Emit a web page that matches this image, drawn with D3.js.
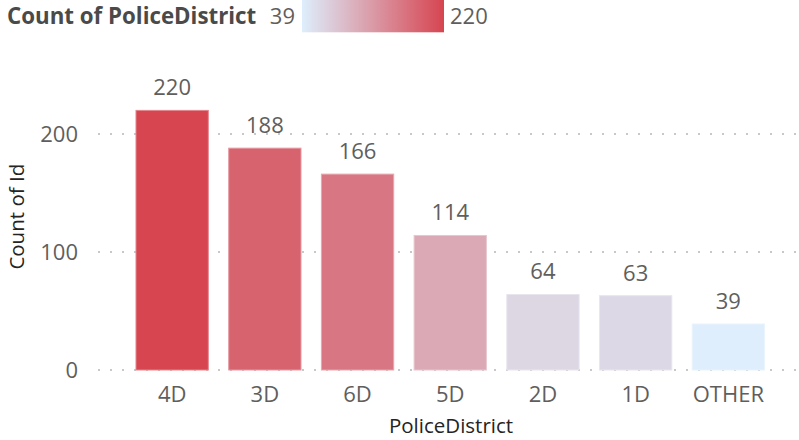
<!DOCTYPE html>
<html><head><meta charset="utf-8">
<script src="https://cdn.jsdelivr.net/npm/d3@7"></script>
<style>
html,body{margin:0;padding:0;background:#fff;}
svg{display:block;font-family:"Open Sans","Noto Sans",sans-serif;}
</style></head>
<body>
<svg id="chart" width="799" height="440"></svg>
<script>
const categories = ["4D","3D","6D","5D","2D","1D","OTHER"];
const counts = [220,188,166,114,64,63,39];
const yTicks = [0,100,200];
const legendTitle = "Count of PoliceDistrict";
const xTitle = "PoliceDistrict";
const yTitle = "Count of Id";
const minColor = "#DEEEFC", maxColor = "#D64550";

const svg = d3.select("#chart");
const x = d3.scaleBand().domain(categories).range([125.8, 774.7]).paddingInner(0.22).paddingOuter(0.11);
const y = d3.scaleLinear().domain([0, 220]).range([370, 110.4]);
const color = d3.scaleLinear().domain([d3.min(counts), d3.max(counts)]).range([minColor, maxColor]).interpolate(d3.interpolateRgb);

// gridlines
svg.append("g").selectAll("line").data(yTicks).join("line")
  .attr("x1", 98).attr("x2", 799)
  .attr("y1", d => y(d)).attr("y2", d => y(d))
  .attr("stroke", "#c8c8c8").attr("stroke-width", 2)
  .attr("stroke-dasharray", "2 10").attr("stroke-linecap", "butt");

// y tick labels
svg.append("g").selectAll("text").data(yTicks).join("text")
  .attr("x", 78).attr("y", d => y(d)).attr("dy", "0.35em")
  .attr("text-anchor", "end").attr("font-size", 22).attr("fill", "#605E5C")
  .text(d => d);

// bars
const data = categories.map((c, i) => ({c, v: counts[i]}));
svg.append("g").selectAll("rect").data(data).join("rect")
  .attr("x", d => x(d.c)).attr("width", x.bandwidth())
  .attr("y", d => y(d.v)).attr("height", d => y(0) - y(d.v))
  .attr("fill", d => color(d.v))
  .attr("stroke", d => d3.interpolateRgb(color(d.v), "#fff")(0.35)).attr("stroke-width", 1);

// data labels
svg.append("g").selectAll("text").data(data).join("text")
  .attr("x", d => x(d.c) + x.bandwidth()/2).attr("y", d => y(d.v) - 15)
  .attr("text-anchor", "middle").attr("font-size", 22).attr("fill", "#605E5C")
  .text(d => d.v);

// x tick labels
svg.append("g").selectAll("text").data(categories).join("text")
  .attr("x", d => x(d) + x.bandwidth()/2).attr("y", 402)
  .attr("text-anchor", "middle").attr("font-size", 22).attr("fill", "#605E5C")
  .text(d => d);

// axis titles
svg.append("text").attr("x", 451).attr("y", 433).attr("text-anchor", "middle")
  .attr("font-size", 20.5).attr("fill", "#252423").text(xTitle);
svg.append("text").attr("transform", "translate(24,216.7) rotate(-90)").attr("text-anchor", "middle")
  .attr("font-size", 20.5).attr("fill", "#252423").text(yTitle);

// legend
svg.append("text").attr("x", 7).attr("y", 24).attr("font-size", 22.3).attr("font-weight", "bold")
  .attr("fill", "#4a4a4a").text(legendTitle);
const defs = svg.append("defs");
const grad = defs.append("linearGradient").attr("id", "lg");
grad.append("stop").attr("offset", "0%").attr("stop-color", minColor);
grad.append("stop").attr("offset", "100%").attr("stop-color", maxColor);
svg.append("rect").attr("x", 302).attr("y", 0).attr("width", 142).attr("height", 32.3).attr("fill", "url(#lg)");
svg.append("text").attr("x", 295).attr("y", 24).attr("text-anchor", "end").attr("font-size", 22)
  .attr("fill", "#605E5C").text(d3.min(counts));
svg.append("text").attr("x", 450).attr("y", 24).attr("font-size", 22)
  .attr("fill", "#605E5C").text(d3.max(counts));
</script>
</body></html>
